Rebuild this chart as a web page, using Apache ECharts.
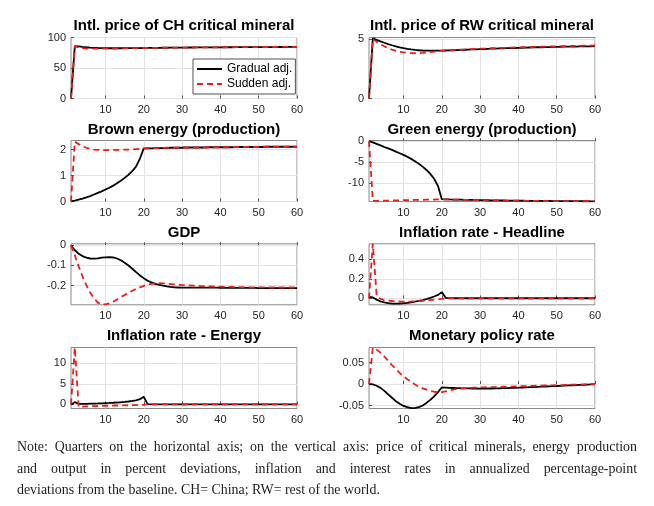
<!DOCTYPE html>
<html><head><meta charset="utf-8">
<script src="https://cdn.jsdelivr.net/npm/echarts@6/dist/echarts.min.js"></script>
<style>
html,body{margin:0;padding:0;background:#fff;}
#chart{position:absolute;left:0;top:0;width:654px;height:506px;}
#note{position:absolute;left:17px;top:436px;width:620px;font-family:"Liberation Serif","Times New Roman",serif;font-size:13.9px;line-height:21.5px;color:#1e1e1e;}
#note div{text-align:justify;text-align-last:justify;white-space:nowrap;}
#note div.last{text-align-last:left;}
</style></head><body>
<div id="chart"></div>
<div id="note">
<div>Note: Quarters on the horizontal axis; on the vertical axis: price of critical minerals, energy production</div>
<div>and output in percent deviations, inflation and interest rates in annualized percentage-point</div>
<div class="last">deviations from the baseline. CH= China; RW= rest of the world.</div>
</div>
<script>
// ---------------- DATA ----------------
const quarters = Array.from({length: 60}, (_, i) => i + 1);
const xTicks = [10, 20, 30, 40, 50, 60];

const chPriceGradual = [0, 86.0, 85.3, 84.6, 84.0, 83.5, 83.1, 82.8, 82.6, 82.5,
 82.4, 82.4, 82.4, 82.4, 82.5, 82.5, 82.6, 82.6, 82.7, 82.8,
 82.9, 83.0, 83.0, 83.1, 83.2, 83.2, 83.3, 83.4, 83.4, 83.5,
 83.5, 83.6, 83.6, 83.7, 83.7, 83.8, 83.8, 83.9, 83.9, 83.9,
 84.0, 84.0, 84.0, 84.1, 84.1, 84.1, 84.2, 84.2, 84.2, 84.3,
 84.3, 84.3, 84.3, 84.4, 84.4, 84.4, 84.4, 84.5, 84.5, 84.5];
const chPriceSudden = [0, 85.5, 83.5, 82.5, 82.0, 81.7, 81.6, 81.6, 81.7, 81.8,
 81.9, 82.0, 82.1, 82.2, 82.3, 82.4, 82.5, 82.6, 82.7, 82.8,
 82.9, 83.0, 83.1, 83.1, 83.2, 83.3, 83.3, 83.4, 83.5, 83.5,
 83.6, 83.6, 83.7, 83.7, 83.8, 83.8, 83.9, 83.9, 84.0, 84.0,
 84.0, 84.1, 84.1, 84.1, 84.2, 84.2, 84.2, 84.3, 84.3, 84.3,
 84.4, 84.4, 84.4, 84.4, 84.5, 84.5, 84.5, 84.5, 84.6, 84.6];
const chTicks = [0, 50, 100];

const rwPriceGradual = [0, 5.05, 4.92, 4.80, 4.68, 4.57, 4.47, 4.38, 4.30, 4.23,
 4.17, 4.12, 4.08, 4.05, 4.03, 4.02, 4.01, 4.01, 4.01, 4.02,
 4.03, 4.04, 4.05, 4.06, 4.08, 4.09, 4.10, 4.12, 4.13, 4.14,
 4.15, 4.17, 4.18, 4.19, 4.20, 4.21, 4.22, 4.23, 4.24, 4.25,
 4.26, 4.27, 4.28, 4.29, 4.30, 4.30, 4.31, 4.32, 4.33, 4.33,
 4.34, 4.35, 4.35, 4.36, 4.36, 4.37, 4.37, 4.38, 4.38, 4.39];
const rwPriceSudden = [0, 5.00, 4.75, 4.55, 4.38, 4.23, 4.10, 4.00, 3.92, 3.87,
 3.83, 3.81, 3.80, 3.81, 3.83, 3.86, 3.89, 3.93, 3.97, 4.01,
 4.03, 4.05, 4.07, 4.09, 4.11, 4.12, 4.14, 4.15, 4.17, 4.18,
 4.19, 4.21, 4.22, 4.23, 4.24, 4.25, 4.26, 4.27, 4.28, 4.29,
 4.30, 4.31, 4.32, 4.33, 4.34, 4.35, 4.36, 4.37, 4.37, 4.38,
 4.39, 4.40, 4.40, 4.41, 4.42, 4.42, 4.43, 4.43, 4.44, 4.45];
const rwTicks = [0, 5];

const brownGradual = [0, 0.03, 0.07, 0.11, 0.16, 0.21, 0.27, 0.33, 0.39, 0.46,
 0.53, 0.61, 0.70, 0.80, 0.91, 1.03, 1.17, 1.35, 1.65, 2.05,
 2.05, 2.05, 2.06, 2.06, 2.06, 2.06, 2.07, 2.07, 2.07, 2.07,
 2.08, 2.08, 2.08, 2.08, 2.08, 2.08, 2.09, 2.09, 2.09, 2.09,
 2.09, 2.09, 2.09, 2.10, 2.10, 2.10, 2.10, 2.10, 2.10, 2.10,
 2.10, 2.11, 2.11, 2.11, 2.11, 2.11, 2.11, 2.11, 2.11, 2.11];
const brownSudden = [0, 2.30, 2.21, 2.13, 2.07, 2.03, 2.00, 1.99, 1.98, 1.98,
 1.98, 1.98, 1.99, 1.99, 2.00, 2.00, 2.01, 2.02, 2.03, 2.05,
 2.05, 2.06, 2.06, 2.06, 2.06, 2.07, 2.07, 2.07, 2.07, 2.08,
 2.08, 2.08, 2.08, 2.08, 2.08, 2.09, 2.09, 2.09, 2.09, 2.09,
 2.09, 2.09, 2.10, 2.10, 2.10, 2.10, 2.10, 2.10, 2.10, 2.10,
 2.11, 2.11, 2.11, 2.11, 2.11, 2.11, 2.11, 2.11, 2.11, 2.11];
const brownTicks = [0, 1, 2];

const greenGradual = [0, -0.3, -0.65, -1.0, -1.4, -1.75, -2.1, -2.5, -2.9, -3.3,
 -3.75, -4.25, -4.8, -5.4, -6.1, -6.9, -7.85, -9.0, -10.7, -13.9,
 -13.93, -13.96, -13.98, -14.00, -14.02, -14.04, -14.06, -14.08, -14.10, -14.12,
 -14.14, -14.15, -14.17, -14.18, -14.20, -14.21, -14.22, -14.24, -14.25, -14.26,
 -14.27, -14.28, -14.29, -14.30, -14.31, -14.32, -14.33, -14.33, -14.34, -14.35,
 -14.35, -14.36, -14.37, -14.37, -14.38, -14.38, -14.39, -14.39, -14.40, -14.40];
const greenSudden = [0, -14.30, -14.28, -14.26, -14.24, -14.22, -14.20, -14.18, -14.16, -14.14,
 -14.12, -14.10, -14.08, -14.06, -14.04, -14.02, -14.00, -13.98, -13.96, -13.94,
 -13.95, -13.97, -13.99, -14.01, -14.03, -14.05, -14.07, -14.09, -14.11, -14.12,
 -14.14, -14.16, -14.17, -14.19, -14.20, -14.21, -14.23, -14.24, -14.25, -14.26,
 -14.27, -14.28, -14.29, -14.30, -14.31, -14.32, -14.33, -14.34, -14.34, -14.35,
 -14.36, -14.36, -14.37, -14.37, -14.38, -14.38, -14.39, -14.39, -14.40, -14.40];
const greenTicks = [-10, -5, 0];

const gdpGradual = [0, -0.025, -0.042, -0.054, -0.062, -0.066, -0.067, -0.065, -0.062, -0.060,
 -0.059, -0.061, -0.066, -0.075, -0.087, -0.101, -0.117, -0.134, -0.150, -0.164,
 -0.176, -0.185, -0.192, -0.197, -0.201, -0.204, -0.207, -0.209, -0.210, -0.211,
 -0.211, -0.211, -0.211, -0.211, -0.211, -0.211, -0.211, -0.211, -0.211, -0.212,
 -0.212, -0.212, -0.212, -0.212, -0.212, -0.212, -0.212, -0.212, -0.212, -0.213,
 -0.213, -0.213, -0.213, -0.213, -0.213, -0.213, -0.213, -0.213, -0.213, -0.213];
const gdpSudden = [0, -0.050, -0.105, -0.155, -0.198, -0.235, -0.263, -0.285, -0.295, -0.294,
 -0.289, -0.281, -0.270, -0.258, -0.247, -0.236, -0.226, -0.217, -0.209, -0.202,
 -0.196, -0.192, -0.190, -0.189, -0.190, -0.191, -0.193, -0.195, -0.196, -0.198,
 -0.199, -0.200, -0.201, -0.202, -0.203, -0.204, -0.205, -0.205, -0.206, -0.206,
 -0.207, -0.207, -0.207, -0.208, -0.208, -0.208, -0.208, -0.209, -0.209, -0.209,
 -0.209, -0.209, -0.210, -0.210, -0.210, -0.210, -0.210, -0.210, -0.210, -0.210];
const gdpTicks = [-0.2, -0.1, 0];

const inflHeadGradual = [0.017, 0.010, -0.012, -0.030, -0.041, -0.048, -0.052, -0.053, -0.052, -0.049,
 -0.045, -0.040, -0.033, -0.025, -0.016, -0.006, 0.006, 0.020, 0.036, 0.065,
 0.006, 0.003, 0.002, 0.002, 0.002, 0.002, 0.002, 0.002, 0.002, 0.002,
 0.002, 0.002, 0.002, 0.002, 0.002, 0.002, 0.002, 0.002, 0.002, 0.002,
 0.002, 0.002, 0.002, 0.002, 0.002, 0.002, 0.002, 0.002, 0.002, 0.002,
 0.002, 0.002, 0.002, 0.002, 0.002, 0.002, 0.002, 0.002, 0.002, 0.002];
const inflHeadSudden = [0, 0.56, 0.030, -0.005, -0.016, -0.022, -0.026, -0.029, -0.031, -0.032,
 -0.032, -0.031, -0.029, -0.027, -0.024, -0.021, -0.017, -0.013, -0.009, -0.005,
 0.001, 0.002, 0.002, 0.002, 0.002, 0.002, 0.002, 0.002, 0.002, 0.002,
 0.002, 0.002, 0.002, 0.002, 0.002, 0.002, 0.002, 0.002, 0.002, 0.002,
 0.002, 0.002, 0.002, 0.002, 0.002, 0.002, 0.002, 0.002, 0.002, 0.002,
 0.002, 0.002, 0.002, 0.002, 0.002, 0.002, 0.002, 0.002, 0.002, 0.002];
const headTicks = [0, 0.2, 0.4];

const inflEnergyGradual = [0, 0.55, 0.15, 0.12, 0.14, 0.17, 0.20, 0.23, 0.27, 0.31,
 0.35, 0.40, 0.46, 0.53, 0.61, 0.71, 0.84, 1.01, 1.28, 1.85,
 0.05, 0.02, 0.01, 0.01, 0.01, 0.01, 0.01, 0.01, 0.01, 0.01,
 0.01, 0.01, 0.01, 0.01, 0.01, 0.01, 0.01, 0.01, 0.01, 0.01,
 0.01, 0.01, 0.01, 0.01, 0.01, 0.01, 0.01, 0.01, 0.01, 0.01,
 0.01, 0.01, 0.01, 0.01, 0.01, 0.01, 0.01, 0.01, 0.01, 0.01];
const inflEnergySudden = [0, 13.9, -0.60, -0.55, -0.50, -0.45, -0.42, -0.39, -0.36, -0.33,
 -0.31, -0.29, -0.27, -0.25, -0.23, -0.21, -0.19, -0.17, -0.15, -0.13,
 0.03, 0.02, 0.01, 0.01, 0.01, 0.01, 0.01, 0.01, 0.01, 0.01,
 0.01, 0.01, 0.01, 0.01, 0.01, 0.01, 0.01, 0.01, 0.01, 0.01,
 0.01, 0.01, 0.01, 0.01, 0.01, 0.01, 0.01, 0.01, 0.01, 0.01,
 0.01, 0.01, 0.01, 0.01, 0.01, 0.01, 0.01, 0.01, 0.01, 0.01];
const energyTicks = [0, 5, 10];

const policyGradual = [0, -0.001, -0.004, -0.009, -0.016, -0.024, -0.032, -0.040, -0.046, -0.051,
 -0.054, -0.056, -0.056, -0.054, -0.050, -0.044, -0.037, -0.029, -0.019, -0.008,
 -0.0085, -0.009, -0.0093, -0.0096, -0.0099, -0.0100, -0.0102, -0.0104, -0.0105, -0.0106,
 -0.0106, -0.0105, -0.0104, -0.0102, -0.0100, -0.0097, -0.0094, -0.0091, -0.0088, -0.0085,
 -0.0081, -0.0078, -0.0074, -0.0070, -0.0066, -0.0062, -0.0058, -0.0054, -0.0050, -0.0046,
 -0.0042, -0.0038, -0.0034, -0.0030, -0.0026, -0.0022, -0.0018, -0.0014, -0.0010, -0.0007];
const policySudden = [0, 0.084, 0.080, 0.073, 0.064, 0.054, 0.044, 0.035, 0.026, 0.018,
 0.011, 0.005, -0.001, -0.006, -0.010, -0.013, -0.016, -0.018, -0.019, -0.019,
 -0.017, -0.015, -0.013, -0.011, -0.010, -0.0095, -0.009, -0.0086, -0.0083, -0.0080,
 -0.0077, -0.0075, -0.0072, -0.0070, -0.0067, -0.0064, -0.0062, -0.0059, -0.0056, -0.0054,
 -0.0051, -0.0048, -0.0046, -0.0043, -0.0040, -0.0038, -0.0035, -0.0032, -0.0030, -0.0027,
 -0.0024, -0.0022, -0.0019, -0.0016, -0.0013, -0.0011, -0.0008, -0.0005, -0.0003, 0];
const policyTicks = [-0.05, 0, 0.05];

const seriesNames = ['Gradual adj.', 'Sudden adj.'];

// ---------------- LAYOUT ----------------
const panels = [
  {title: 'Intl. price of CH critical mineral', g: chPriceGradual, s: chPriceSudden, ticks: chTicks, min: 0, max: 100, col: 0, row: 0},
  {title: 'Intl. price of RW critical mineral', g: rwPriceGradual, s: rwPriceSudden, ticks: rwTicks, min: 0, max: 5.12, col: 1, row: 0},
  {title: 'Brown energy (production)', g: brownGradual, s: brownSudden, ticks: brownTicks, min: 0, max: 2.35, col: 0, row: 1},
  {title: 'Green energy (production)', g: greenGradual, s: greenSudden, ticks: greenTicks, min: -14.45, max: 0.15, col: 1, row: 1},
  {title: 'GDP', g: gdpGradual, s: gdpSudden, ticks: gdpTicks, min: -0.296, max: 0.007, col: 0, row: 2},
  {title: 'Inflation rate - Headline', g: inflHeadGradual, s: inflHeadSudden, ticks: headTicks, min: -0.065, max: 0.56, col: 1, row: 2},
  {title: 'Inflation rate - Energy', g: inflEnergyGradual, s: inflEnergySudden, ticks: energyTicks, min: -1, max: 13.9, col: 0, row: 3},
  {title: 'Monetary policy rate', g: policyGradual, s: policySudden, ticks: policyTicks, min: -0.057, max: 0.085, col: 1, row: 3}
];
const colLeft = [71, 369];
const plotW = 226;
const rowTop = [37.5, 140.5, 243.8, 347.5];
const plotH = 61;
const titleCY = [26, 129.5, 232.5, 335.5];

const FONT = '"Liberation Sans", Arial, sans-serif';
const BLACK = '#000000';
const RED = '#ee1c1c';

const option = {
  animation: false,
  backgroundColor: '#ffffff',
  textStyle: {fontFamily: FONT},
  title: [], grid: [], xAxis: [], yAxis: [], series: [],
  legend: {
    data: seriesNames,
    orient: 'vertical',
    left: 193, top: 59,
    padding: [4, 3, 4, 3],
    itemGap: 3,
    itemWidth: 25, itemHeight: 12,
    itemTextGap: 2,
    itemStyle: {opacity: 0},
    backgroundColor: '#ffffff',
    borderColor: '#262626', borderWidth: 0.8, borderRadius: 0,
    textStyle: {fontSize: 12, color: '#000', fontFamily: FONT},
    selectedMode: false,
    z: 20
  }
};

panels.forEach((p, i) => {
  const left = colLeft[p.col];
  const top = rowTop[p.row];
  option.title.push({
    text: p.title, left: left + plotW / 2, top: titleCY[p.row] - 9, textAlign: 'center', padding: 0,
    textStyle: {fontSize: 15, fontWeight: 'bold', color: '#000', fontFamily: FONT, lineHeight: 18}
  });
  option.grid.push({left: left, top: top, width: plotW, height: plotH, show: true,
    borderColor: '#8a8a8a', borderWidth: 1, backgroundColor: '#fff'});
  option.xAxis.push({
    type: 'value', gridIndex: i, min: 1, max: 60,
    axisLine: {show: false},
    axisTick: {show: true, inside: true, length: 3, customValues: xTicks, lineStyle: {color: '#555'}},
    axisLabel: {customValues: xTicks, fontSize: 11, color: '#262626', margin: 6, fontFamily: FONT},
    splitLine: {show: true, lineStyle: {color: '#e3e3e3', width: 1}}
  });
  option.yAxis.push({
    type: 'value', gridIndex: i, min: p.min, max: p.max,
    axisLine: {show: false},
    axisTick: {show: true, inside: true, length: 3, customValues: p.ticks, lineStyle: {color: '#555'}},
    axisLabel: {customValues: p.ticks, fontSize: 11, color: '#262626', margin: 5, fontFamily: FONT},
    splitLine: {show: true, lineStyle: {color: '#e3e3e3', width: 1}}
  });
  option.series.push({
    name: seriesNames[0], type: 'line', xAxisIndex: i, yAxisIndex: i,
    data: quarters.map((q, k) => [q, p.g[k]]),
    showSymbol: false, symbol: 'none', clip: true,
    lineStyle: {color: BLACK, width: 1.8}, itemStyle: {color: BLACK}, z: 3
  });
  option.series.push({
    name: seriesNames[1], type: 'line', xAxisIndex: i, yAxisIndex: i,
    data: quarters.map((q, k) => [q, p.s[k]]),
    showSymbol: false, symbol: 'none', clip: true,
    lineStyle: {color: RED, width: 1.8, type: [6, 4]}, itemStyle: {color: RED}, z: 4
  });
});

const chart = echarts.init(document.getElementById('chart'), null, {renderer: 'canvas'});
chart.setOption(option);
</script>
</body></html>
